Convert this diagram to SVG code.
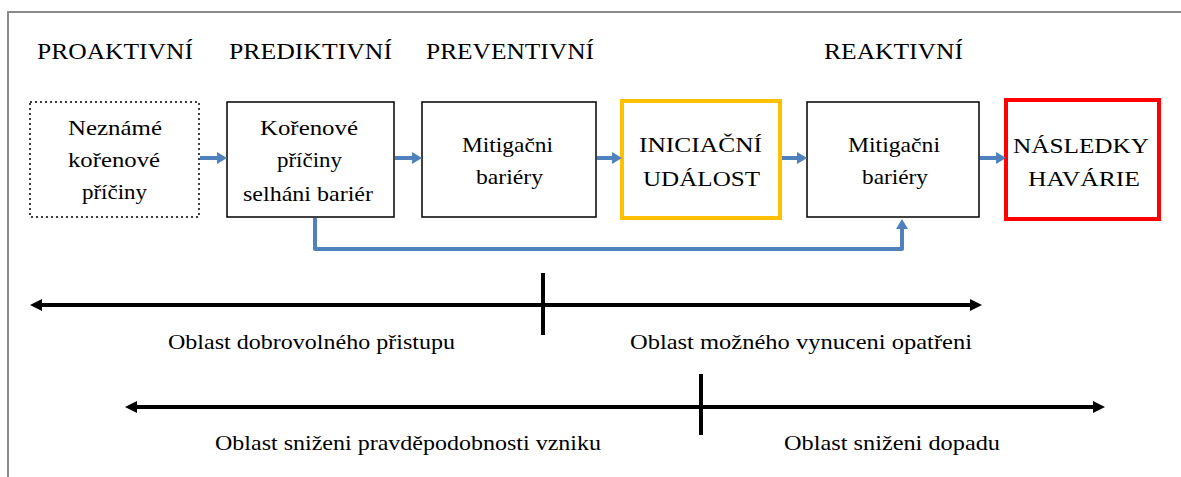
<svg xmlns="http://www.w3.org/2000/svg" width="1181" height="477" viewBox="0 0 1181 477" font-family="'Liberation Serif', 'DejaVu Serif', serif">
  <style>
    .bg { fill: #ffffff; }
    .frame { fill: none; stroke: #8a8a8a; stroke-width: 2; }
    .box { fill: #ffffff; stroke: #000000; stroke-width: 1.5; }
    .dotted { stroke-dasharray: 2 3; }
    .start { fill: #ffffff; stroke: #ffc000; stroke-width: 4; }
    .end { fill: #ffffff; stroke: #ff0000; stroke-width: 4; }
    .flow { fill: none; stroke: #4f81bd; stroke-width: 4; stroke-linejoin: round; }
    .axis { fill: none; stroke: #000000; stroke-width: 4; }
    .tick { stroke: #000000; stroke-width: 4; }
    text { font-family: 'Liberation Serif', 'DejaVu Serif', serif; fill: #000000; }
    .head { font-size: 24px; }
    .lbl { font-size: 22px; text-anchor: middle; }
    .area { font-size: 22px; }
  </style>
  <defs>
    <marker id="blueHead" markerUnits="userSpaceOnUse" markerWidth="10" markerHeight="12" refX="2" refY="6" orient="auto">
      <path d="M0,0 L10,6 L0,12 Z" fill="#4f81bd"/>
    </marker>
    <marker id="blackHead" markerUnits="userSpaceOnUse" markerWidth="12" markerHeight="12" refX="2" refY="6" orient="auto-start-reverse">
      <path d="M0,0 L12,6 L0,12 Z" fill="#000000"/>
    </marker>
  </defs>

  <rect class="bg" x="0" y="0" width="1181" height="477"/>
  <!-- outer frame: top and left edges only -->
  <path class="frame" d="M8,477 V12 H1181"/>

  <!-- approach headings -->
  <g id="headings">
    <text class="head" x="37" y="59" textLength="156" lengthAdjust="spacingAndGlyphs">PROAKTIVNÍ</text>
    <text class="head" x="229" y="59" textLength="163" lengthAdjust="spacingAndGlyphs">PREDIKTIVNÍ</text>
    <text class="head" x="426" y="59" textLength="168" lengthAdjust="spacingAndGlyphs">PREVENTIVNÍ</text>
    <text class="head" x="824" y="59" textLength="139" lengthAdjust="spacingAndGlyphs">REAKTIVNÍ</text>
  </g>

  <g id="node-unknown-causes">
    <rect class="box dotted" x="30" y="102" width="169" height="115"/>
    <text class="lbl" x="115" y="135" textLength="94" lengthAdjust="spacingAndGlyphs">Neznámé</text>
    <text class="lbl" x="114" y="167" textLength="92" lengthAdjust="spacingAndGlyphs">kořenové</text>
    <text class="lbl" x="114.5" y="199" textLength="65" lengthAdjust="spacingAndGlyphs">příčiny</text>
  </g>

  <g id="node-root-causes">
    <rect class="box" x="227" y="102" width="167" height="115"/>
    <text class="lbl" x="309" y="135" textLength="98" lengthAdjust="spacingAndGlyphs">Kořenové</text>
    <text class="lbl" x="309.5" y="167" textLength="65" lengthAdjust="spacingAndGlyphs">příčiny</text>
    <text class="lbl" x="308" y="201" textLength="130" lengthAdjust="spacingAndGlyphs">selháni bariér</text>
  </g>

  <g id="node-barriers-1">
    <rect class="box" x="422" y="102" width="174" height="115"/>
    <text class="lbl" x="507.5" y="152" textLength="91" lengthAdjust="spacingAndGlyphs">Mitigačni</text>
    <text class="lbl" x="509.5" y="184" textLength="67" lengthAdjust="spacingAndGlyphs">bariéry</text>
  </g>

  <g id="node-initiating-event">
    <rect class="start" x="622" y="101" width="158" height="117"/>
    <text class="lbl" x="700.5" y="152" textLength="123" lengthAdjust="spacingAndGlyphs">INICIAČNÍ</text>
    <text class="lbl" x="701.5" y="186" textLength="117" lengthAdjust="spacingAndGlyphs">UDÁLOST</text>
  </g>

  <g id="node-barriers-2">
    <rect class="box" x="807" y="102" width="172" height="115"/>
    <text class="lbl" x="894" y="152" textLength="92" lengthAdjust="spacingAndGlyphs">Mitigačni</text>
    <text class="lbl" x="895" y="184" textLength="66" lengthAdjust="spacingAndGlyphs">bariéry</text>
  </g>

  <g id="node-consequences">
    <rect class="end" x="1006" y="100" width="153" height="119"/>
    <text class="lbl" x="1081" y="153" textLength="136" lengthAdjust="spacingAndGlyphs">NÁSLEDKY</text>
    <text class="lbl" x="1084" y="186" textLength="112" lengthAdjust="spacingAndGlyphs">HAVÁRIE</text>
  </g>

  <!-- flow connectors -->
  <g id="connectors">
    <path class="flow" d="M200,158 H219" marker-end="url(#blueHead)"/>
    <path class="flow" d="M395,158 H414" marker-end="url(#blueHead)"/>
    <path class="flow" d="M597,158 H614" marker-end="url(#blueHead)"/>
    <path class="flow" d="M782,158 H799" marker-end="url(#blueHead)"/>
    <path class="flow" d="M980,158 H998" marker-end="url(#blueHead)"/>
    <path class="flow" d="M315,218 V249 H902 V227" marker-end="url(#blueHead)"/>
  </g>

  <!-- responsibility axis -->
  <g id="axis-voluntary">
    <path class="axis" d="M40,305 H972" marker-start="url(#blackHead)" marker-end="url(#blackHead)"/>
    <line class="tick" x1="543" y1="273" x2="543" y2="335"/>
    <text class="area" x="168" y="349" textLength="287" lengthAdjust="spacingAndGlyphs">Oblast dobrovolného přistupu</text>
    <text class="area" x="630" y="349" textLength="342" lengthAdjust="spacingAndGlyphs">Oblast možného vynuceni opatřeni</text>
  </g>

  <!-- risk reduction axis -->
  <g id="axis-reduction">
    <path class="axis" d="M135,407 H1095" marker-start="url(#blackHead)" marker-end="url(#blackHead)"/>
    <line class="tick" x1="701" y1="374" x2="701" y2="435"/>
    <text class="area" x="215" y="450" textLength="386" lengthAdjust="spacingAndGlyphs">Oblast sniženi pravděpodobnosti vzniku</text>
    <text class="area" x="784" y="450" textLength="216" lengthAdjust="spacingAndGlyphs">Oblast sniženi dopadu</text>
  </g>
</svg>
